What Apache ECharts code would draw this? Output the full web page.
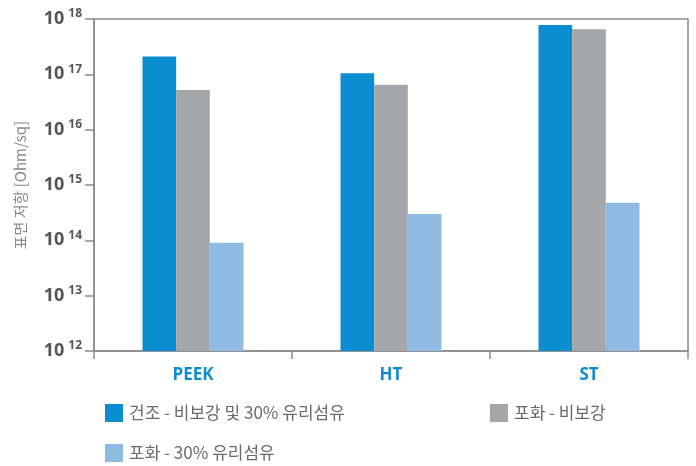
<!DOCTYPE html>
<html>
<head>
<meta charset="utf-8">
<script src="https://cdn.jsdelivr.net/npm/echarts@6/dist/echarts.min.js"></script>
<style>html,body{margin:0;padding:0;background:#fff}#c{width:696px;height:466px}</style>
</head>
<body>
<div id="c"></div>
<script>
const categories = ['PEEK', 'HT', 'ST'];
const seriesNames = ['건조 - 비보강 및 30% 유리섬유', '포화 - 비보강', '포화 - 30% 유리섬유'];
const dryValues = [2.1e17, 1.05e17, 7.8e17];
const satUnreinforced = [5.2e16, 6.5e16, 6.5e17];
const satGlass = [9.0e13, 3.0e14, 4.8e14];
const yMin = 1e12, yMax = 1e18;
const yTitle = '표면 저항 [Ohm/sq]';
const colors = ['#0a8dd1', '#a5a6aa', '#8fbbe3'];

const FONT = "'Open Sans', 'Noto Sans CJK KR', sans-serif";
const KFONT = "'Noto Sans CJK KR', 'Open Sans', sans-serif";
const chart = echarts.init(document.getElementById('c'), null, {renderer: 'canvas'});
const values = [dryValues, satUnreinforced, satGlass];

function legendFor(i, left, top) {
  return {
    data: [seriesNames[i]], left: left, top: top,
    itemWidth: 18, itemHeight: 18, itemGap: 10,
    icon: 'rect', selectedMode: false,
    textStyle: {fontFamily: KFONT, fontSize: 17, color: '#6b6b6b', padding: [0, 0, 0, 1]}
  };
}

chart.setOption({
  animation: false,
  grid: {left: 94, right: 8, top: 19, bottom: 115, show: true, borderColor: '#8c8c8c', borderWidth: 1.5},
  legend: [legendFor(0, 100, 399), legendFor(1, 485, 399), legendFor(2, 100, 439)],
  xAxis: {
    type: 'category', data: categories,
    axisLine: {lineStyle: {color: '#8c8c8c', width: 1.5}},
    axisTick: {show: true, length: 8, lineStyle: {color: '#8c8c8c', width: 1.5}},
    axisLabel: {fontFamily: FONT, fontSize: 17, fontWeight: 'bold', color: '#0a8dd1', margin: 16}
  },
  yAxis: {
    type: 'log', logBase: 10, min: yMin, max: yMax,
    name: yTitle, nameLocation: 'middle', nameGap: 66,
    nameTextStyle: {fontFamily: KFONT, fontSize: 15, color: '#8a8a8a'},
    axisLine: {show: true, lineStyle: {color: '#8c8c8c', width: 1.5}},
    axisTick: {show: true, length: 9, lineStyle: {color: '#8c8c8c', width: 1.5}},
    splitLine: {show: false},
    axisLabel: {
      margin: 12,
      formatter: function (v) { return '{b|10}{s|' + Math.round(Math.log10(v)) + '}'; },
      rich: {
        b: {fontFamily: FONT, fontSize: 18, fontWeight: 'bold', color: '#555'},
        s: {fontFamily: FONT, fontSize: 12, fontWeight: 'bold', color: '#555', padding: [0, 0, 10, 4]}
      }
    }
  },
  series: values.map((d, i) => ({
    name: seriesNames[i], type: 'bar', data: d,
    barGap: '0%', barCategoryGap: '49%',
    itemStyle: {color: colors[i]}
  }))
});
</script>
</body>
</html>
